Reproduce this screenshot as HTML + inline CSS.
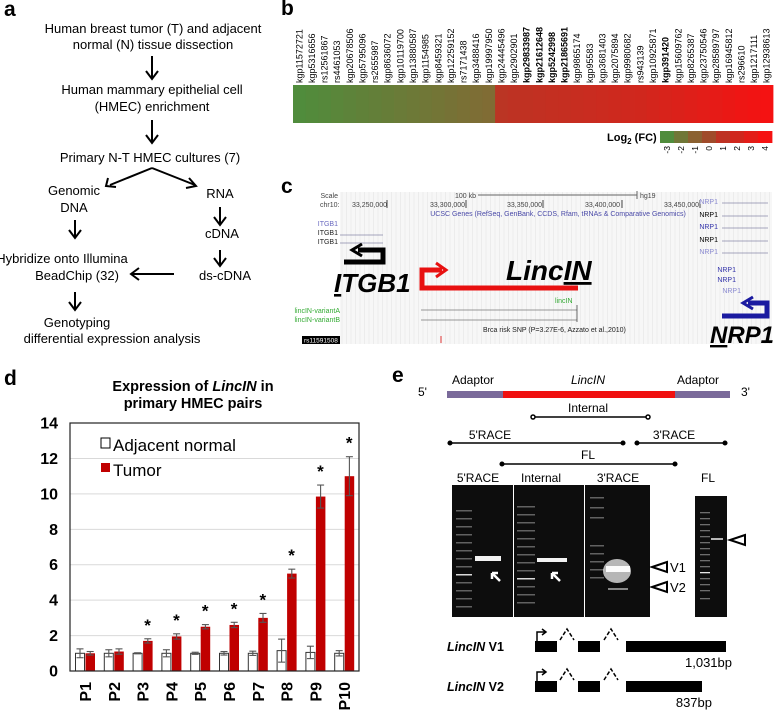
<!DOCTYPE html>
<html><head><meta charset="utf-8"><style>
body{margin:0;background:#fff;}
svg{display:block;font-family:"Liberation Sans",Arial,sans-serif;}
</style></head><body>
<svg id="fig" width="778" height="712" viewBox="0 0 778 712">
<!-- Panel a -->
<g font-size="13" text-anchor="middle" fill="#000">
<text x="4" y="16" font-size="21" font-weight="bold" text-anchor="start">a</text>
<text x="153" y="33">Human breast  tumor (T) and adjacent</text>
<text x="153" y="49">normal (N) tissue dissection</text>
<text x="152" y="94">Human mammary epithelial  cell</text>
<text x="152" y="111">(HMEC) enrichment</text>
<text x="150" y="162">Primary N-T HMEC cultures (7)</text>
<text x="74" y="195">Genomic</text>
<text x="74" y="212">DNA</text>
<text x="220" y="198">RNA</text>
<text x="222" y="238">cDNA</text>
<text x="225" y="280">ds-cDNA</text>
<text x="62" y="263">Hybridize onto Illumina</text>
<text x="77" y="280">BeadChip (32)</text>
<text x="77" y="327">Genotyping</text>
<text x="112" y="343">differential expression analysis</text>
</g>
<g stroke="#000" stroke-width="2" fill="none">
<path d="M152 56V78M146 71L152 79L158 71"/>
<path d="M152 120V142M146 135L152 143L158 135"/>
<path d="M152 168L110 185M152 168L195 185M108 178L106 186L116 187M189 178L196 186L186 188"/>
<path d="M75 220V237M69 230L75 238L81 230"/>
<path d="M220 207V224M214 217L220 225L226 217"/>
<path d="M220 250V265M214 258L220 266L226 258"/>
<path d="M174 274H132M139 268L131 274L139 280"/>
<path d="M75 292V309M69 302L75 310L81 302"/>
</g>

<!-- Panel b -->
<text x="281" y="15" font-size="21" font-weight="bold">b</text>
<g id="heatmap"></g>
<g>
<text x="607" y="141" font-size="11" font-weight="bold">Log<tspan font-size="8" dy="3">2</tspan><tspan dy="-3"> (FC)</tspan></text>
<g id="colorbar"></g>
</g>

<!-- Panel c -->
<g>
<text x="281" y="193" font-size="21" font-weight="bold">c</text>
<rect x="340" y="192" width="432" height="152" fill="#f7f7f7"/>
<g id="vlines" stroke="#e4e4e4" stroke-width="0.6"></g>
<g font-size="7" fill="#444">
<text x="338" y="198" text-anchor="end">Scale</text>
<text x="320" y="207">chr10:</text>
<text x="352" y="207">33,250,000</text><line x1="387" y1="200" x2="387" y2="208" stroke="#444"/>
<text x="430" y="207">33,300,000</text><line x1="466" y1="200" x2="466" y2="208" stroke="#444"/>
<text x="507" y="207">33,350,000</text><line x1="543" y1="200" x2="543" y2="208" stroke="#444"/>
<text x="585" y="207">33,400,000</text><line x1="622" y1="200" x2="622" y2="208" stroke="#444"/>
<text x="664" y="207">33,450,000</text><line x1="700" y1="200" x2="700" y2="208" stroke="#444"/>
<text x="455" y="198">100 kb</text><line x1="478" y1="195" x2="637" y2="195" stroke="#666"/>
<line x1="637" y1="191" x2="637" y2="199" stroke="#666"/><text x="640" y="198">hg19</text>
<text x="558" y="216" text-anchor="middle" fill="#4a4aa8">UCSC Genes (RefSeq, GenBank, CCDS, Rfam, tRNAs &amp; Comparative Genomics)</text>
<text x="338" y="226" text-anchor="end" fill="#6a6ac0">ITGB1</text>
<text x="338" y="235" text-anchor="end" fill="#222">ITGB1</text>
<text x="338" y="244" text-anchor="end" fill="#222">ITGB1</text>
<text x="718" y="204" text-anchor="end" fill="#8a8ad0">NRP1</text>
<text x="718" y="217" text-anchor="end" fill="#000">NRP1</text>
<text x="718" y="229" text-anchor="end" fill="#33a">NRP1</text>
<text x="718" y="242" text-anchor="end" fill="#000">NRP1</text>
<text x="718" y="254" text-anchor="end" fill="#8a8ad0">NRP1</text>
<text x="736" y="272" text-anchor="end" fill="#33a">NRP1</text>
<text x="736" y="282" text-anchor="end" fill="#33a">NRP1</text>
<text x="741" y="293" text-anchor="end" fill="#8a8ad0">NRP1</text>
<text x="340" y="313" text-anchor="end" fill="#3a3">lincIN-variantA</text>
<text x="340" y="322" text-anchor="end" fill="#3a3">lincIN-variantB</text>
<text x="555" y="303" fill="#3a3">lincIN</text>
<text x="483" y="332" fill="#222">Brca risk SNP (P=3.27E-6, Azzato et al.,2010)</text>
</g>
<g stroke="#8888aa" stroke-width="0.7">
<line x1="340" y1="235" x2="383" y2="235"/><line x1="340" y1="243" x2="383" y2="243"/>
<line x1="722" y1="203" x2="768" y2="203"/><line x1="722" y1="216" x2="768" y2="216"/>
<line x1="722" y1="228" x2="768" y2="228"/><line x1="722" y1="241" x2="768" y2="241"/>
<line x1="722" y1="253" x2="768" y2="253"/>
<line x1="421" y1="310" x2="577" y2="310" stroke="#777"/><line x1="421" y1="320" x2="577" y2="320" stroke="#777"/>
<line x1="577" y1="305" x2="577" y2="322" stroke="#333"/>
</g>
<rect x="302" y="336" width="38" height="8" fill="#000"/>
<text x="304" y="342.5" font-size="6.5" fill="#fff">rs11591508</text>
<line x1="441" y1="336" x2="441" y2="343" stroke="#d33" stroke-width="1"/>
<g fill="none" stroke="#000" stroke-width="5">
<path d="M344 262H383V250H358"/><path d="M362 244L352 250L362 256" stroke-width="3"/>
</g>
<text x="334" y="292" font-size="26" font-weight="bold" font-style="italic"><tspan text-decoration="underline">I</tspan>TGB1</text>
<g fill="none" stroke="#e81010" stroke-width="5">
<path d="M578 288H422V270H442"/><path d="M436 263L446 270L436 277" stroke-width="3"/>
</g>
<text x="506" y="280" font-size="28" font-weight="bold" font-style="italic">Linc<tspan text-decoration="underline">IN</tspan></text>
<g fill="none" stroke="#1a1aa0" stroke-width="5">
<path d="M722 316H767V303H748"/><path d="M753 297L743 303L753 309" stroke-width="3"/>
</g>
<text x="710" y="343" font-size="24" font-weight="bold" font-style="italic"><tspan text-decoration="underline">N</tspan>RP1</text>
</g>

<!-- Panel d -->
<g id="chart-d">
<text x="4" y="385" font-size="21" font-weight="bold">d</text>
<text x="193" y="391" font-size="14.5" font-weight="bold" text-anchor="middle">Expression of <tspan font-style="italic">LincIN</tspan> in</text>
<text x="193" y="408" font-size="14.5" font-weight="bold" text-anchor="middle">primary HMEC pairs</text>
<g id="grid"></g><g id="bars"></g><g id="yticks"></g><g id="xticks"></g>
<rect x="70" y="423" width="289" height="248" fill="none" stroke="#222" stroke-width="1.2"/>
<g>
<rect x="101" y="438" width="9" height="10" fill="#fff" stroke="#000"/>
<text x="113" y="451" font-size="17">Adjacent normal</text>
<rect x="101" y="463" width="9" height="9" fill="#c00000"/>
<text x="113" y="476" font-size="17">Tumor</text>
</g>
</g>

<!-- Panel e -->
<g>
<text x="392" y="382" font-size="21" font-weight="bold">e</text>
<rect x="447" y="391" width="56" height="7" fill="#7a6a9a"/>
<rect x="503" y="391" width="172" height="7" fill="#f01010"/>
<rect x="675" y="391" width="55" height="7" fill="#7a6a9a"/>
<g id="gels"></g>
<g font-size="12">
<text x="418" y="396">5'</text><text x="741" y="396">3'</text>
<text x="452" y="384">Adaptor</text><text x="588" y="384" text-anchor="middle" font-style="italic">LincIN</text><text x="677" y="384">Adaptor</text>
<text x="588" y="412" text-anchor="middle">Internal</text>
<text x="490" y="439" text-anchor="middle">5'RACE</text>
<text x="674" y="439" text-anchor="middle">3'RACE</text>
<text x="588" y="459" text-anchor="middle">FL</text>
<text x="478" y="482" text-anchor="middle">5'RACE</text>
<text x="541" y="482" text-anchor="middle">Internal</text>
<text x="618" y="482" text-anchor="middle">3'RACE</text>
<text x="708" y="482" text-anchor="middle">FL</text>
</g>
<g stroke="#000" stroke-width="1.5" fill="#000">
<line x1="533" y1="417" x2="648" y2="417"/><circle cx="533" cy="417" r="2" fill="#fff"/><circle cx="648" cy="417" r="2" fill="#fff"/>
<line x1="450" y1="443" x2="623" y2="443"/><circle cx="450" cy="443" r="1.8"/><circle cx="623" cy="443" r="1.8"/>
<line x1="637" y1="443" x2="725" y2="443"/><circle cx="637" cy="443" r="1.8"/><circle cx="725" cy="443" r="1.8"/>
<line x1="502" y1="464" x2="675" y2="464"/><circle cx="502" cy="464" r="1.8"/><circle cx="675" cy="464" r="1.8"/>
</g>
<g fill="none" stroke="#000" stroke-width="2">
<path d="M667 562L652 567L667 572Z"/><path d="M667 582L652 587L667 592Z"/><path d="M745 535L730 540L745 545Z"/>
</g>
<text x="670" y="572" font-size="13">V1</text><text x="670" y="592" font-size="13">V2</text>
<g>
<text x="447" y="651" font-size="12.5" font-weight="bold"><tspan font-style="italic">LincIN</tspan> V1</text>
<rect x="535" y="641" width="22" height="11"/><rect x="578" y="641" width="22" height="11"/><rect x="626" y="641" width="100" height="11"/>
<path d="M537 641V632H545M542 629L546 632L542 635" stroke="#000" stroke-width="1.5" fill="none"/>
<path d="M560 640L567 629L574 640M604 640L611 629L618 640" stroke="#000" stroke-width="1.5" fill="none" stroke-dasharray="4 2"/>
<text x="732" y="667" font-size="13" text-anchor="end">1,031bp</text>
</g>
<g>
<text x="447" y="691" font-size="12.5" font-weight="bold"><tspan font-style="italic">LincIN</tspan> V2</text>
<rect x="535" y="681" width="22" height="11"/><rect x="578" y="681" width="22" height="11"/><rect x="626" y="681" width="76" height="11"/>
<path d="M537 681V672H545M542 669L546 672L542 675" stroke="#000" stroke-width="1.5" fill="none"/>
<path d="M560 680L567 669L574 680M604 680L611 669L618 680" stroke="#000" stroke-width="1.5" fill="none" stroke-dasharray="4 2"/>
<text x="712" y="707" font-size="13" text-anchor="end">837bp</text>
</g>
</g>
</svg>
<script>
const NS="http://www.w3.org/2000/svg";
function mk(tag,attrs,parent){const e=document.createElementNS(NS,tag);for(const k in attrs)e.setAttribute(k,attrs[k]);parent.appendChild(e);return e;}

// ---- Panel d data ----
const categories=["P1","P2","P3","P4","P5","P6","P7","P8","P9","P10"];
const normalValues=[1.0,1.0,1.0,1.0,1.0,1.0,1.0,1.15,1.05,1.0];
const normalErrors=[0.25,0.2,0.03,0.2,0.06,0.1,0.12,0.65,0.35,0.15];
const tumorValues=[1.0,1.1,1.7,1.95,2.5,2.6,3.0,5.5,9.85,11.0];
const tumorErrors=[0.1,0.15,0.12,0.15,0.12,0.15,0.25,0.25,0.65,1.1];
const significant=[false,false,true,true,true,true,true,true,true,true];
const yTicks=[0,2,4,6,8,10,12,14];

// ---- Panel b data ----
const snpLabels=["kgp11572721","kgp5316656","rs12561867","rs4461053","kgp20678506","kgp5795096","rs2655987","kgp8636072","kgp10119700","kgp13880587","kgp1154985","kgp8459321","kgp12259152","rs7171438","kgp3488416","kgp19997950","kgp24445496","kgp2902901","kgp29833987","kgp21612648","kgp5242998","kgp21865691","kgp9865174","kgp95583","kgp3681403","kgp2075894","kgp9980682","rs943139","kgp10925871","kgp391420","kgp15609762","kgp8265387","kgp23750546","kgp28589797","kgp16945812","rs296610","kgp1217111","kgp12938613"];
const snpBold=["kgp29833987","kgp21612648","kgp5242998","kgp21865691","kgp391420"];
const log2FC=[-3.0,-2.9,-2.8,-2.7,-2.6,-2.5,-2.4,-2.3,-2.2,-2.1,-2.0,-1.9,-1.8,-1.7,-1.6,-1.5,0.9,1.0,1.1,1.2,1.3,1.4,1.5,1.6,1.7,1.8,1.9,2.0,2.2,2.4,2.6,2.8,3.0,3.2,3.4,3.6,3.8,4.0];
const colorTicks=[-3,-2,-1,0,1,2,3,4];

const cStops=[[-3,[80,140,60]],[-1.5,[128,108,52]],[0,[160,75,42]],[1,[190,50,35]],[4,[245,18,18]]];
function color(v){for(let i=0;i<cStops.length-1;i++){const a=cStops[i],b=cStops[i+1];if(v<=b[0]||i==cStops.length-2){let t=(v-a[0])/(b[0]-a[0]);t=Math.max(0,Math.min(1,t));const c=a[1].map((x,j)=>Math.round(x+(b[1][j]-x)*t));return`rgb(${c})`;}}}

const hm=document.getElementById('heatmap');
const hx0=293,hw=480/snpLabels.length;
snpLabels.forEach((lab,i)=>{
  const r=mk('rect',{x:hx0+i*hw,y:85,width:hw+0.4,height:38,fill:color(log2FC[i])},hm);
  
  
  const cx=hx0+(i+0.5)*hw+3;
  const t=mk('text',{x:cx,y:83,'font-size':9,transform:`rotate(-90 ${cx} 83)`,'font-weight':snpBold.includes(lab)?'bold':'normal'},hm);
  t.textContent=lab;
  
  
});
const cb=document.getElementById('colorbar');
const cbx=660,cbw=112/colorTicks.length;
colorTicks.forEach((v,i)=>{
  const r=mk('rect',{x:cbx+i*cbw,y:131,width:cbw+0.4,height:12,fill:color(v)},cb);
  
  
  const cx=cbx+(i+0.5)*cbw+3;
  const t=mk('text',{x:cx,y:146,'font-size':8.5,'text-anchor':'end',transform:`rotate(-90 ${cx} 146)`},cb);
  t.textContent=v;
  
  
});

const vl=document.getElementById('vlines');
for(let x=342;x<772;x+=4.5){mk('line',{x1:x,y1:192,x2:x,y2:344},vl);}

const y0=671,ppu=17.71;
const yS=v=>y0-v*ppu;
const xS=i=>85+i*28.8;
const grid=document.getElementById('grid'),yt=document.getElementById('yticks');
yTicks.forEach(v=>{
  if(v>0&&v<14)mk('line',{x1:70,x2:359,y1:yS(v),y2:yS(v),stroke:'#d9d9d9','stroke-width':1},grid);
  const t=mk('text',{x:58,y:yS(v)+5.5,'font-size':16,'font-weight':'bold','text-anchor':'end'},yt);
  t.textContent=v;
  
  
});
const bars=document.getElementById('bars'),xt=document.getElementById('xticks');
function errbar(cx,v,e){
  const g=mk('g',{stroke:'#555','stroke-width':1.1},bars);
  mk('line',{x1:cx,x2:cx,y1:yS(v-e),y2:yS(v+e)},g);
  mk('line',{x1:cx-3.5,x2:cx+3.5,y1:yS(v+e),y2:yS(v+e)},g);
  mk('line',{x1:cx-3.5,x2:cx+3.5,y1:yS(v-e),y2:yS(v-e)},g);
}
categories.forEach((c,i)=>{
  const cx=xS(i);
  const n=mk('rect',{x:cx-9.5,y:yS(normalValues[i]),width:9,height:normalValues[i]*ppu,fill:'#fff',stroke:'#333','stroke-width':1},bars);
  
  
  const tb=mk('rect',{x:cx+0.5,y:yS(tumorValues[i]),width:9.5,height:tumorValues[i]*ppu,fill:'#c00000'},bars);
  
  
  errbar(cx-5,normalValues[i],normalErrors[i]);
  errbar(cx+5.2,tumorValues[i],tumorErrors[i]);
  if(significant[i]){
    const s=mk('text',{x:cx+5,y:yS(tumorValues[i]+tumorErrors[i])-8,'font-size':17,'font-weight':'bold','text-anchor':'middle'},bars);
    s.textContent='*';
    
    
  }
  const t=mk('text',{x:cx+6,y:682,'font-size':16,'font-weight':'bold','text-anchor':'end',transform:`rotate(-90 ${cx+6} 682)`},xt);
  t.textContent=c;
  
  
});

const gels=document.getElementById('gels');
const gelRects=[[452,485,61,132],[514,485,70,132],[585,485,65,132],[695,496,32,121]];
gelRects.forEach(r=>{const g=mk('rect',{x:r[0],y:r[1],width:r[2],height:r[3],fill:'#0d0d0d'},gels);});
function band(x,y,w,h,op){mk('rect',{x:x,y:y,width:w,height:h,fill:'#fff',opacity:op},gels);}
[510,518,526,534,542,550,558,566,574,582,590,598,606].forEach((y,k)=>{band(456,y,16,1.5,0.35+(k==8?0.5:0));band(517,y-4,18,1.5,0.35+(k==9?0.5:0));});
[497,507,517,545,553,561,569,577].forEach(y=>band(590,y,14,1.5,0.35));
[512,518,524,530,536,542,548,554,560,566,572,578,584,590,598].forEach((y,k)=>band(700,y,10,1.3,0.4+(k==10?0.5:0)));
band(475,556,26,5,0.95);band(537,558,30,4,0.95);
mk('ellipse',{cx:617,cy:571,rx:14,ry:12,fill:'#fff',opacity:0.7},gels);
band(606,566,24,6,0.95);band(608,588,20,2,0.5);band(711,538,12,2,0.7);
mk('path',{d:'M492 573L500 581M492 573V579M492 573H498M552 573L560 581M552 573V579M552 573H558',stroke:'#fff','stroke-width':2.5,fill:'none'},gels);
</script>
</body></html>
